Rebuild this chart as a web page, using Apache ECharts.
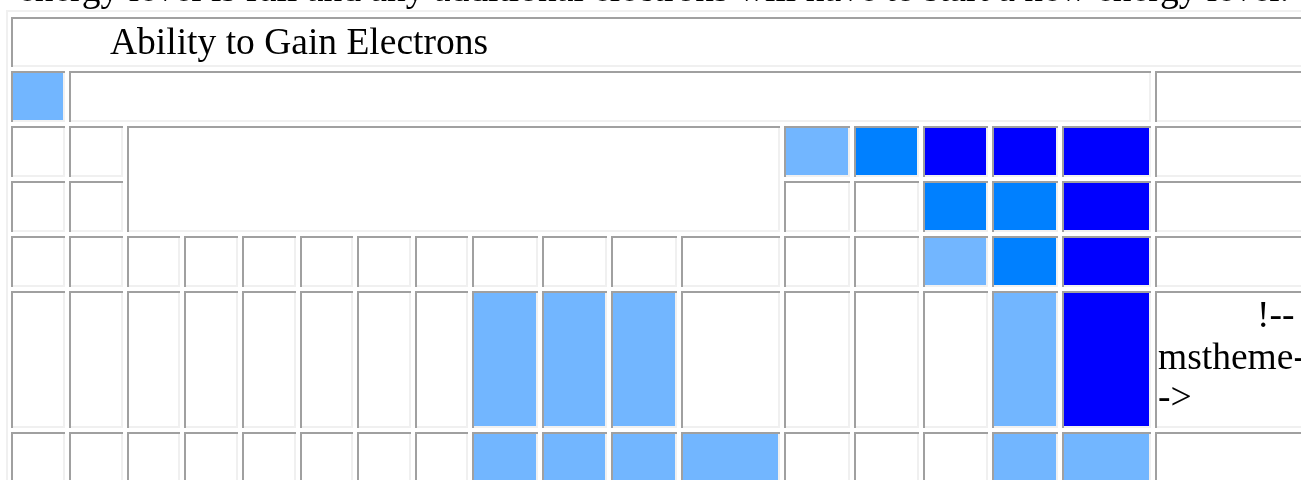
<!DOCTYPE html>
<html>
<head>
<meta charset="utf-8">
<script src="https://cdn.jsdelivr.net/npm/echarts@6/dist/echarts.min.js"></script>
<style>
  html, body { margin: 0; padding: 0; background: #fff; }
  #chart { width: 1301px; height: 480px; }
</style>
</head>
<body>
<div id="chart"></div>
<script>
// table grid: left edge of each column, top edge of each row (last entry = closing edge)
var colLeft = [11, 69, 127, 184, 242, 300, 357, 415, 472, 542, 611, 681, 784, 854, 923, 992, 1062, 1155, 1340];
var rowTop = [17, 71, 126, 181, 236, 291, 432, 487];
var spacing = 4;

// 0 = none, 1 = some, 2 = more, 3 = most
var levelColors = ['#ffffff', '#72b6ff', '#0080ff', '#0000ff'];

// merged rows: [row, col, colSpan, rowSpan, level]
var headerCells = [[0, 0, 18, 1, 0]];
var period1Cells = [[1, 0, 1, 1, 1], [1, 1, 16, 1, 0], [1, 17, 1, 1, 0]];
var period2Cells = [[2, 0, 1, 1, 0], [2, 1, 1, 1, 0], [2, 2, 10, 2, 0],
  [2, 12, 1, 1, 1], [2, 13, 1, 1, 2], [2, 14, 1, 1, 3], [2, 15, 1, 1, 3], [2, 16, 1, 1, 3], [2, 17, 1, 1, 0]];
var period3Cells = [[3, 0, 1, 1, 0], [3, 1, 1, 1, 0],
  [3, 12, 1, 1, 0], [3, 13, 1, 1, 0], [3, 14, 1, 1, 2], [3, 15, 1, 1, 2], [3, 16, 1, 1, 3], [3, 17, 1, 1, 0]];
// full rows: one level per column
var period4Levels = [0, 0, 0, 0, 0, 0, 0, 0, 0, 0, 0, 0, 0, 0, 1, 2, 3, 0];
var period5Levels = [0, 0, 0, 0, 0, 0, 0, 0, 1, 1, 1, 0, 0, 0, 0, 1, 3, 0];
var period6Levels = [0, 0, 0, 0, 0, 0, 0, 0, 1, 1, 1, 1, 0, 0, 0, 1, 1, 0];

var titleText = 'Ability to Gain Electrons';
var introText = 'energy level is full and any additional electrons will have to start a new energy level.';
var commentLines = ['!--', 'mstheme-', '->'];

var cells = [].concat(headerCells, period1Cells, period2Cells, period3Cells);
[[4, period4Levels], [5, period5Levels], [6, period6Levels]].forEach(function (r) {
  r[1].forEach(function (lvl, c) { cells.push([r[0], c, 1, 1, lvl]); });
});

var data = cells.map(function (cl) {
  var x0 = colLeft[cl[1]], x1 = colLeft[cl[1] + cl[2]] - spacing;
  var y0 = rowTop[cl[0]], y1 = rowTop[cl[0] + cl[3]] - spacing;
  return [x0, x1, y0, y1, cl[4]];
});

var font = '37.5px "Liberation Serif", "Times New Roman", serif';

var myChart = echarts.init(document.getElementById('chart'), null, { renderer: 'canvas' });
var option = {
  animation: false,
  backgroundColor: '#ffffff',
  grid: { left: 0, right: 0, top: 0, bottom: 0 },
  xAxis: { type: 'value', min: 0, max: 1301, show: false },
  yAxis: { type: 'value', min: 0, max: 480, inverse: true, show: false },
  graphic: [
    // outer table border (outset: light on top / left)
    { type: 'rect', shape: { x: 6, y: 10, width: 1400, height: 2 }, style: { fill: '#f0f0f0' }, z: 1 },
    { type: 'rect', shape: { x: 6, y: 10, width: 2, height: 500 }, style: { fill: '#f0f0f0' }, z: 1 },
    { type: 'text', x: 18, y: -9, style: { text: introText, font: font, fill: '#000', verticalAlign: 'middle' }, z: 10 },
    { type: 'text', x: 110, y: 44, style: { text: titleText, font: font, fill: '#000', verticalAlign: 'middle' }, z: 10 },
    { type: 'text', x: 1257, y: 317, style: { text: commentLines[0], font: font, fill: '#000', verticalAlign: 'middle' }, z: 10 },
    { type: 'text', x: 1158, y: 359, style: { text: commentLines[1], font: font, fill: '#000', verticalAlign: 'middle' }, z: 10 },
    { type: 'text', x: 1158, y: 399, style: { text: commentLines[2], font: font, fill: '#000', verticalAlign: 'middle' }, z: 10 }
  ],
  series: [{
    type: 'custom',
    coordinateSystem: 'cartesian2d',
    encode: { x: [0, 1], y: [2, 3] },
    data: data,
    renderItem: function (params, api) {
      var p0 = api.coord([api.value(0), api.value(2)]);
      var p1 = api.coord([api.value(1), api.value(3)]);
      var x = Math.round(p0[0]), y = Math.round(p0[1]);
      var w = Math.round(p1[0]) - x, h = Math.round(p1[1]) - y;
      var fill = levelColors[api.value(4)];
      return {
        type: 'group',
        children: [
          { type: 'rect', shape: { x: x, y: y, width: w, height: h }, style: { fill: fill } },
          { type: 'rect', shape: { x: x, y: y, width: w, height: 2 }, style: { fill: '#a0a0a0' } },
          { type: 'rect', shape: { x: x, y: y, width: 2, height: h }, style: { fill: '#a0a0a0' } },
          { type: 'rect', shape: { x: x + 2, y: y + h - 2, width: w - 2, height: 2 }, style: { fill: '#f0f0f0' } },
          { type: 'rect', shape: { x: x + w - 2, y: y + 2, width: 2, height: h - 2 }, style: { fill: '#f0f0f0' } }
        ]
      };
    }
  }]
};
myChart.setOption(option);
</script>
</body>
</html>
